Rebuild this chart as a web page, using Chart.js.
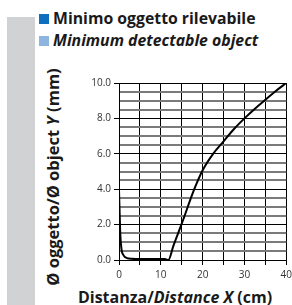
<!DOCTYPE html>
<html>
<head>
<meta charset="utf-8">
<script src="https://cdn.jsdelivr.net/npm/chart.js@4.4.0/dist/chart.umd.min.js"></script>
<style>
  body { margin: 0; background: #fff; font-family: "Open Sans", sans-serif; }
  #wrap { position: relative; width: 292px; height: 305px; overflow: hidden; }
  #bar { position: absolute; left: 7px; top: 17px; width: 28px; height: 288px; background: #d0d2d4; }
  .leg { position: absolute; left: 39px; font-weight: bold; font-size: 15.8px; color: #1a1a1a; white-space: nowrap; line-height: 18px; }
  .leg span.sq { display: inline-block; width: 10px; height: 10px; margin-right: 4px; vertical-align: 0px; }
  #ytitle { position: absolute; left: 52px; top: 177px; transform: translate(-50%, -50%) rotate(-90deg); font-weight: bold; font-size: 16.5px; white-space: nowrap; color: #1a1a1a; }
  #xtitle { position: absolute; left: 175px; top: 297px; transform: translate(-50%, -50%); font-weight: bold; font-size: 16px; white-space: nowrap; color: #1a1a1a; }
  #holder { position: absolute; left: 60px; top: 71px; width: 236px; height: 220px; }
</style>
</head>
<body>
<div id="wrap">
  <div id="bar"></div>
  <div class="leg" style="top:9px"><span class="sq" style="background:#0e6fbf"></span>Minimo oggetto rilevabile</div>
  <div class="leg" style="top:31px"><span class="sq" style="background:#8db5e0"></span><i>Minimum detectable object</i></div>
  <div id="ytitle">Ø oggetto/Ø object <i>Y</i> (mm)</div>
  <div id="xtitle">Distanza/<i>Distance X</i> (cm)</div>
  <div id="holder"><canvas id="canvas1" width="236" height="220"></canvas></div>
</div>
<script>
var distance = [0, 0.3, 0.6, 1, 1.5, 2, 3, 5, 8, 10, 11, 11.8, 13, 15, 18, 20, 22.5, 25, 27.5, 30, 32.5, 35, 37.5, 40];
var objectSize = [4.0, 1.5, 0.6, 0.3, 0.15, 0.1, 0.07, 0.05, 0.05, 0.05, 0.05, 0.0, 0.8, 2.05, 4.0, 5.07, 6.0, 6.7, 7.4, 8.0, 8.55, 9.05, 9.55, 10.0];
var xTicks = [0, 10, 20, 30, 40];
var yTicks = [0, 2, 4, 6, 8, 10];

var points = distance.map(function(x, i){ return {x: x, y: objectSize[i]}; });

var ctx = document.getElementById('canvas1');
new Chart(ctx, {
  type: 'scatter',
  data: {
    datasets: [{
      data: points,
      showLine: true,
      borderColor: '#000',
      borderWidth: 2,
      pointRadius: 0,
      cubicInterpolationMode: 'monotone'
    }]
  },
  options: {
    responsive: false,
    animation: false,
    layout: { padding: { top: 12, right: 6 } },
    plugins: { legend: { display: false }, tooltip: { enabled: false } },
    scales: {
      x: {
        type: 'linear', min: 0, max: 40,
        ticks: {
          stepSize: 5, color: '#333', font: { family: 'Open Sans', size: 10 }, padding: 4,
          maxRotation: 0, autoSkip: false,
          callback: function(v){ return xTicks.indexOf(v) >= 0 ? String(v) : ''; }
        },
        grid: { color: '#000', lineWidth: 1, tickLength: 5, tickColor: '#000' },
        border: { color: '#000', width: 1 },
        afterFit: function(s){ s.height = 31; }
      },
      y: {
        min: 0, max: 10,
        ticks: {
          stepSize: 0.5, color: '#333', font: { family: 'Open Sans', size: 10 }, padding: 3,
          autoSkip: false,
          callback: function(v){ return yTicks.indexOf(v) >= 0 ? v.toFixed(1) : ''; }
        },
        grid: {
          color: function(c){ return yTicks.indexOf(c.tick.value) >= 0 ? '#000' : '#7a7a7a'; },
          lineWidth: function(c){ return yTicks.indexOf(c.tick.value) >= 0 ? 1 : 2; },
          tickLength: 5,
          tickColor: function(c){ return yTicks.indexOf(c.tick.value) >= 0 ? '#000' : 'rgba(0,0,0,0)'; },
          tickWidth: 1
        },
        border: { color: '#000', width: 1 },
        afterFit: function(s){ s.width = 59; }
      }
    }
  }
});
</script>
</body>
</html>
